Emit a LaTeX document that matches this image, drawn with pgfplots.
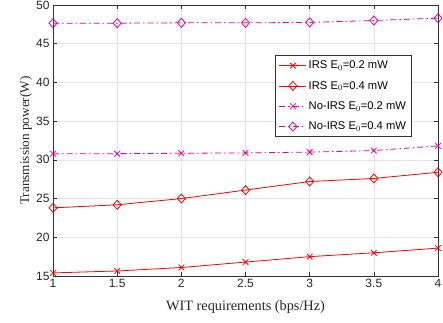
\documentclass[border=0pt]{standalone}
\usepackage{pgfplots}
\pgfplotsset{compat=1.18}
\usepackage{fontspec}
\setmainfont{Liberation Serif}
\newfontfamily\arial{Liberation Sans}
\begin{document}
\begin{tikzpicture}
\path[use as bounding box] (0,0) rectangle (443pt,322pt);
\begin{axis}[
  at={(53pt,46pt)}, anchor=south west,
  scale only axis, width=385pt, height=271pt,
  xmin=1, xmax=4, ymin=15, ymax=50,
  xtick={1,1.5,...,4}, ytick={15,20,...,50},
  xticklabels={1,1.5,2,2.5,3,3.5,4},
  tick align=inside, tick pos=both,
  major tick length=4pt,
  grid=major, grid style={gray!22, line width=0.5pt},
  axis line style={black!80, line width=0.6pt},
  tick style={black!80, line width=0.6pt},
  ticklabel style={font=\arial\fontsize{12}{13}\selectfont, text=black!85},
  /pgf/number format/assume math mode=true,
  xlabel={WIT requirements (bps/Hz)},
  ylabel={Transmission power(W)},
  xlabel style={font=\fontsize{14.3}{16}\selectfont, text=black!85,
    at={(axis description cs:0.5,-0.128)}, anchor=base},
  ylabel style={font=\fontsize{13.2}{15}\selectfont, text=black!85,
    at={(axis description cs:-0.062,0.5)}, anchor=base},
  legend style={at={(0.577,0.815)}, anchor=north west, draw=black!80, line width=0.6pt,
    font=\arial\fontsize{11.2}{12}\selectfont, fill=white, row sep=7pt, inner sep=3.5pt,
    cells={anchor=west}},
  legend image code/.code={
    \draw[mark repeat=2,mark phase=2] plot coordinates {(0pt,0pt) (13.5pt,0pt) (27pt,0pt)};},
]
\addplot[red, line width=0.8pt, mark=x, mark size=4pt, mark options={solid}] coordinates {
(1,15.4) (1.5,15.65) (2,16.1) (2.5,16.8) (3,17.5) (3.5,18.0) (4,18.6)};
\addlegendentry{IRS E$_0$=0.2 mW}
\addplot[red, line width=0.8pt, mark=diamond, mark size=4.5pt, mark options={solid,xscale=1.2}] coordinates {
(1,23.8) (1.5,24.2) (2,25.0) (2.5,26.1) (3,27.2) (3.5,27.6) (4,28.4)};
\addlegendentry{IRS E$_0$=0.4 mW}
\addplot[magenta, line width=0.8pt, dash pattern=on 6pt off 3pt on 1.5pt off 3pt, mark=x, mark size=4pt, mark options={solid}] coordinates {
(1,30.8) (1.5,30.8) (2,30.85) (2.5,30.9) (3,31.0) (3.5,31.2) (4,31.8)};
\addlegendentry{No-IRS E$_0$=0.2 mW}
\addplot[magenta, line width=0.8pt, dash pattern=on 6pt off 3pt on 1.5pt off 3pt, mark=diamond, mark size=4.5pt, mark options={solid,xscale=1.2}] coordinates {
(1,47.65) (1.5,47.65) (2,47.7) (2.5,47.7) (3,47.75) (3.5,48.0) (4,48.3)};
\addlegendentry{No-IRS E$_0$=0.4 mW}
\end{axis}
\end{tikzpicture}
\end{document}
